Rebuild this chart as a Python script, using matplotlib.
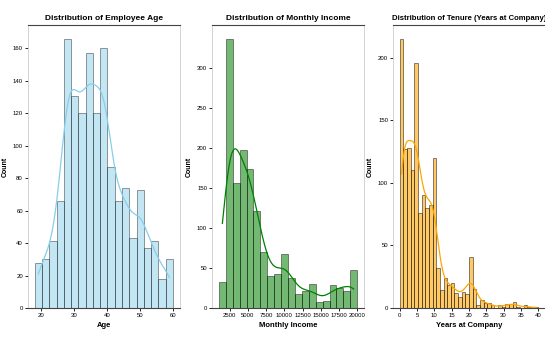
import numpy as np
import matplotlib
matplotlib.use("Agg")
import matplotlib.pyplot as plt
from matplotlib import font_manager

# Histogram bins and counts per bin
age_edges = np.linspace(18, 60, 20)
age_counts = [28, 30, 41, 66, 166, 131, 120, 157, 120, 160,
              87, 66, 74, 43, 73, 37, 41, 18, 30]

income_edges = np.linspace(1009, 19999, 21)
income_counts = [33, 336, 156, 197, 173, 121, 70, 40, 43, 67,
                 38, 17, 21, 30, 7, 9, 29, 25, 21, 47]

tenure_edges = np.linspace(0, 40, 39)
tenure_counts = [215, 127, 128, 110, 196, 76, 90, 80, 82, 120,
                 32, 14, 24, 18, 20, 12, 9, 13, 11, 41,
                 15, 2, 6, 4, 4, 2, 0, 2, 1, 3,
                 3, 5, 1, 0, 2, 1, 0, 1]

age_ticks = [20, 30, 40, 50, 60]
income_ticks = [2500, 5000, 7500, 10000, 12500, 15000, 17500, 20000]
tenure_ticks = [0, 5, 10, 15, 20, 25, 30, 35, 40]


def weighted_kde(centers, counts, binwidth, npts=300):
    """Gaussian KDE of the binned data, scaled to counts (Scott bandwidth)."""
    n = counts.sum()
    w = counts / n
    mean = np.sum(w * centers)
    std = np.sqrt(np.sum(w * (centers - mean) ** 2))
    bw = std * n ** (-1 / 5)
    xs = np.linspace(centers.min(), centers.max(), npts)
    dens = np.sum(w[None, :] * np.exp(-0.5 * ((xs[:, None] - centers[None, :]) / bw) ** 2), axis=1)
    dens /= bw * np.sqrt(2 * np.pi)
    return xs, dens * n * binwidth


# narrow font if available
names = {f.name for f in font_manager.fontManager.ttflist}
main_font = 'Liberation Sans Narrow' if 'Liberation Sans Narrow' in names else 'Liberation Sans'
plt.rcParams['font.family'] = [main_font, 'DejaVu Sans']

fig = plt.figure(figsize=(5.45, 3.49), dpi=100)
lefts = [0.051, 0.389, 0.721]
bottom, height, width = 0.1175, 0.81, 0.279

panels = [
    (age_edges, age_counts, 'skyblue', 0.5, 'Distribution of Employee Age', 6, 'Age',
     age_ticks, [0, 20, 40, 60, 80, 100, 120, 140, 160]),
    (income_edges, income_counts, 'green', 0.55, 'Distribution of Monthly Income', 6, 'Monthly Income',
     income_ticks, [0, 50, 100, 150, 200, 250, 300]),
    (tenure_edges, tenure_counts, 'orange', 0.6, 'Distribution of Tenure (Years at Company)', 5.6,
     'Years at Company', tenure_ticks, [0, 50, 100, 150, 200]),
]

for left, (edges, counts, color, alpha, title, tsize, xlabel, xticks, yticks) in zip(lefts, panels):
    ax = fig.add_axes([left, bottom, width, height])
    counts = np.asarray(counts, dtype=float)
    centers = (edges[:-1] + edges[1:]) / 2
    ax.hist(centers, bins=edges, weights=counts, color=color, alpha=alpha,
            edgecolor='black', linewidth=0.55)
    xs, ys = weighted_kde(centers, counts, edges[1] - edges[0])
    ax.plot(xs, ys, color=color, linewidth=0.9)
    ax.margins(x=0.05, y=0.05)
    ax.set_ylim(0, counts.max() * 1.05)
    ax.set_title(title, fontsize=tsize, fontweight='bold', pad=4)
    ax.set_xlabel(xlabel, fontsize=5.5, fontweight='bold', labelpad=3)
    ax.set_ylabel('Count', fontsize=5, fontweight='bold', labelpad=3)
    ax.set_xticks(xticks)
    ax.set_yticks(yticks)
    ax.tick_params(labelsize=4.3, length=2, width=0.6, pad=1.5)
    for side in ['left', 'right']:
        ax.spines[side].set_color('#cccccc')
        ax.spines[side].set_linewidth(0.6)
    for side in ['top', 'bottom']:
        ax.spines[side].set_color('#444444')
        ax.spines[side].set_linewidth(0.8)

fig.savefig('out.png', dpi=100)
